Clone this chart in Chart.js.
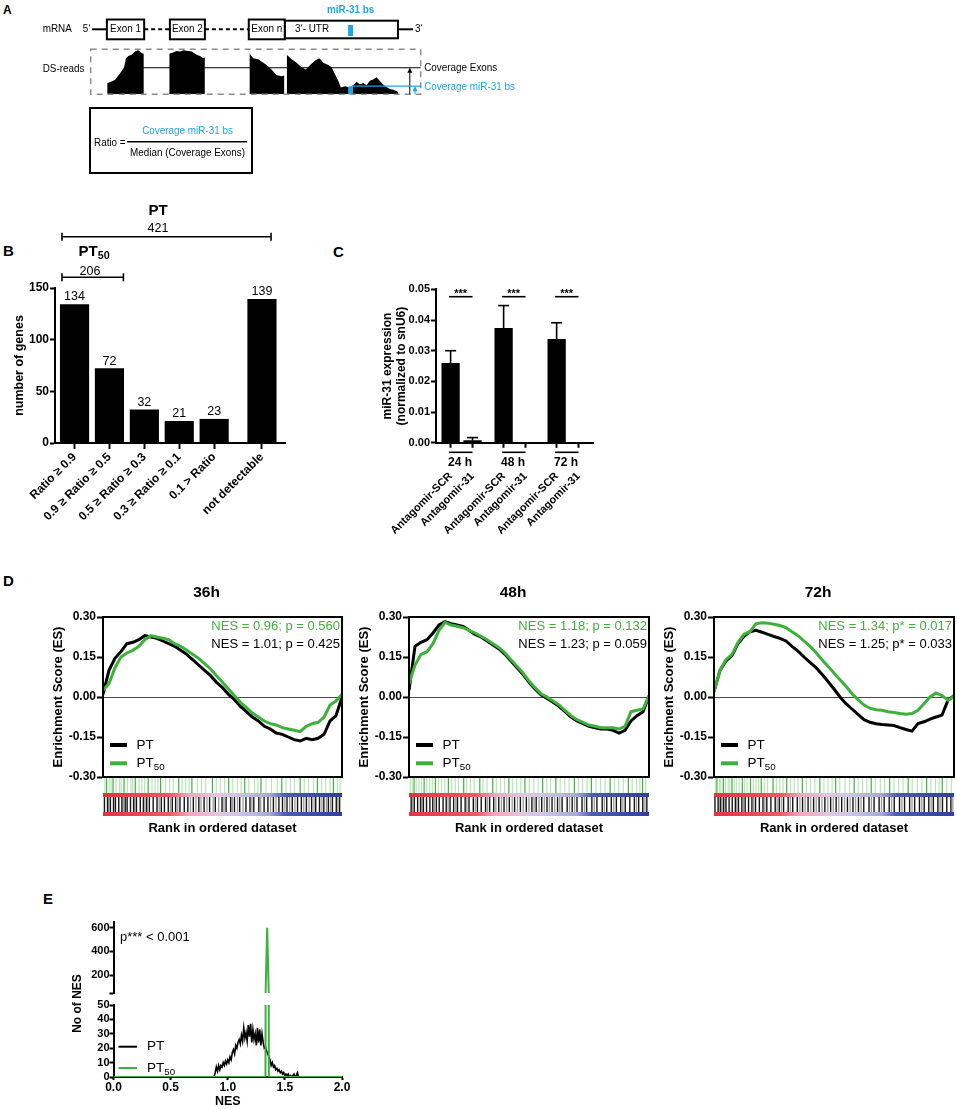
<!DOCTYPE html>
<html><head><meta charset="utf-8"><title>miR-31 figure</title>
<script src="https://cdn.jsdelivr.net/npm/chart.js@4.4.1/dist/chart.umd.min.js"></script>
<style>
html,body{margin:0;padding:0;background:#fff;}
#page{position:relative;width:957px;height:1109px;overflow:hidden;background:#fff;font-family:"Liberation Sans",Arial,sans-serif;}
#page canvas{position:absolute;}
.pl{position:absolute;font-weight:bold;font-size:15px;line-height:15px;color:#000;}
</style></head>
<body><div id="page">
<div class="pl" style="left:3px;top:4px;font-size:12px;line-height:12px">A</div>
<div class="pl" style="left:3px;top:243px">B</div>
<div class="pl" style="left:333px;top:244px">C</div>
<div class="pl" style="left:3px;top:573px">D</div>
<div class="pl" style="left:43px;top:891px">E</div>
<canvas id="cA" width="560" height="180" style="left:0;top:0"></canvas>
<canvas id="cB" width="300" height="335" style="left:0;top:195px"></canvas>
<canvas id="cC" width="293" height="300" style="left:330px;top:240px"></canvas>
<canvas id="cD1" width="320" height="262" style="left:30px;top:578px"></canvas>
<canvas id="cD2" width="321" height="262" style="left:336px;top:578px"></canvas>
<canvas id="cD3" width="316" height="262" style="left:641px;top:578px"></canvas>
<canvas id="cE2" width="320" height="209" style="left:40px;top:900px"></canvas>
<canvas id="cE1" width="320" height="90" style="left:40px;top:910px"></canvas>
</div>
<script>
// ---------------- DATA ----------------
// Panel A: read coverage (percent of the read box height) along the transcript (arbitrary position units 0-1000)
const A_EXON1_POS = [50,58,73,84,94,101,107,114,124,134,144,154,161];
const A_EXON1_COV = [25,27,32,42,52,60,80,85,88,95,98,92,90];
const A_EXON2_POS = [238,250,260,271,281,291,306,321,331,341,346];
const A_EXON2_COV = [90,93,96,95,98,97,95,88,85,80,82];
const A_EXONN_POS = [481,487,493,508,523,533,548,563,578,587];
const A_EXONN_COV = [92,85,80,78,70,65,55,43,40,42];
const A_UTR_POS = [594,609,624,639,652,665,680,693,705,720,730,740,750,758,771,784,796,806,816,826,836,846,856,866,876,886,896,907,917,932];
const A_UTR_COV = [88,78,70,60,55,65,75,80,70,65,60,45,30,15,18,15,20,28,22,25,20,30,33,38,30,22,16,12,10,5];
const A_BS_POS = [780,795];
const A_BS_COV = [17,19];
const A_MEDIAN_COV = 59;
const A_BS_LEVEL = 18;

// Panel B
const B_CATEGORIES = ['Ratio \u2265 0.9','0.9 \u2265 Ratio \u2265 0.5','0.5 \u2265 Ratio \u2265 0.3','0.3 \u2265 Ratio \u2265 0.1','0.1 > Ratio','not detectable'];
const B_VALUES = [134,72,32,21,23,139];
const B_GROUP_NAMES = ['PT','PT50'];
const B_GROUP_TOTALS = [421,206];
const B_Y_TICKS = [0,50,100,150];

// Panel C
const C_LABELS = ['Antagomir-SCR','Antagomir-31','Antagomir-SCR','Antagomir-31','Antagomir-SCR','Antagomir-31'];
const C_TIMES = ['24 h','48 h','72 h'];
const C_MEANS = [0.0259,0.0007,0.0373,0,0.0337,0];
const C_ERRORS = [0.0041,0.0010,0.0074,0,0.0054,0];
const C_SIGNIF = ['***','***','***'];
const C_Y_TICKS = [0,0.01,0.02,0.03,0.04,0.05];

// Panel D
const D_TITLES = ['36h','48h','72h'];
const D_SERIES = ['PT','PT50'];
const D_NES_PT = ['NES = 1.01; p = 0.425','NES = 1.23; p = 0.059','NES = 1.25; p* = 0.033'];
const D_NES_PT50 = ['NES = 0.96; p = 0.560','NES = 1.18; p = 0.132','NES = 1.34; p* = 0.017'];
const D_Y_TICKS = [-0.30,-0.15,0,0.15,0.30];
const D_RANK = [0,2.5,5,7.5,10,12.5,15,17.5,20,22.5,25,27.5,30,32.5,35,37.5,40,42.5,45,47.5,50,52.5,55,57.5,60,62.5,65,67.5,70,72.5,75,77.5,80,82.5,85,87.5,90,92.5,95,97.5,100];
const D36_PT   = [0.01,0.10,0.145,0.17,0.20,0.205,0.215,0.23,0.225,0.22,0.21,0.20,0.19,0.175,0.16,0.14,0.12,0.10,0.08,0.055,0.035,0.01,-0.01,-0.035,-0.055,-0.075,-0.09,-0.11,-0.12,-0.135,-0.14,-0.15,-0.16,-0.165,-0.155,-0.16,-0.155,-0.14,-0.09,-0.07,0.0];
const D36_PT50 = [0.025,0.05,0.11,0.15,0.165,0.175,0.19,0.215,0.23,0.225,0.22,0.215,0.20,0.19,0.175,0.16,0.145,0.125,0.105,0.08,0.055,0.03,0.005,-0.02,-0.04,-0.06,-0.075,-0.09,-0.10,-0.105,-0.115,-0.12,-0.125,-0.13,-0.11,-0.10,-0.095,-0.075,-0.03,-0.015,0.01];
const D48_PT   = [0.025,0.19,0.205,0.215,0.24,0.27,0.283,0.275,0.27,0.265,0.25,0.235,0.225,0.21,0.195,0.18,0.16,0.135,0.11,0.085,0.055,0.03,0.008,-0.005,-0.02,-0.035,-0.055,-0.075,-0.09,-0.10,-0.11,-0.115,-0.12,-0.12,-0.125,-0.135,-0.125,-0.09,-0.07,-0.055,0.005];
const D48_PT50 = [0.05,0.12,0.16,0.17,0.2,0.25,0.28,0.27,0.265,0.26,0.25,0.24,0.228,0.215,0.2,0.185,0.165,0.14,0.115,0.09,0.06,0.035,0.012,0.0,-0.015,-0.03,-0.05,-0.07,-0.085,-0.095,-0.105,-0.11,-0.115,-0.115,-0.115,-0.12,-0.11,-0.055,-0.05,-0.045,0.005];
const D72_PT   = [0.02,0.1,0.135,0.155,0.2,0.228,0.245,0.25,0.243,0.235,0.227,0.22,0.21,0.19,0.172,0.15,0.13,0.11,0.085,0.058,0.03,0.0,-0.025,-0.045,-0.065,-0.085,-0.095,-0.1,-0.103,-0.105,-0.107,-0.115,-0.122,-0.128,-0.1,-0.093,-0.083,-0.075,-0.068,-0.012,0.005];
const D72_PT50 = [0.02,0.1,0.14,0.16,0.205,0.235,0.245,0.275,0.278,0.277,0.273,0.268,0.26,0.245,0.23,0.21,0.19,0.167,0.14,0.115,0.09,0.065,0.04,0.012,-0.01,-0.03,-0.042,-0.048,-0.05,-0.055,-0.058,-0.062,-0.065,-0.062,-0.05,-0.025,0.0,0.015,0.005,-0.012,0.003];
// gene-set hits (rank %), barcode rows
const D36_HIT50_STRONG = [1.5,4.2,8.8,13.5,18.9,24.1,31.7,37.2,45.8,52.6,59.3,66.1,74.8,82.5,89.7,96.4];
const D36_HIT50_LIGHT = [0.8,2.6,3.4,5.5,6.9,7.6,10.2,11.7,12.4,15.1,16.3,17.4,20.5,21.8,23.0,26.2,27.9,29.4,33.1,34.6,36.0,39.5,41.2,43.0,47.4,49.1,50.9,54.3,56.2,57.8,61.0,63.4,64.8,68.2,70.5,72.9,76.6,78.4,80.1,84.2,86.0,88.1,91.5,93.2,95.0,98.1,99.2];
const D36_HIT_STRONG = [0.6,1.9,3.1,4.4,5.2,6.6,7.9,9.3,10.1,11.5,12.8,14.0,15.6,16.9,18.3,19.4,21.0,22.6,24.4,25.7,27.3,29.0,30.4,32.2,34.0,35.5,37.8,40.1,42.3,44.6,47.0,49.8,51.5,53.4,55.0,57.2,59.8,61.5,63.1,65.2,67.4,69.0,71.3,73.6,75.1,77.0,79.2,81.4,83.0,85.1,87.3,89.0,90.6,92.4,94.3,96.0,97.6,99.0];
const D36_HIT_LIGHT = [2.4,8.5,13.3,17.6,23.5,28.2,31.3,36.6,38.9,41.0,43.5,46.1,48.4,50.6,54.1,56.3,58.6,62.3,66.0,70.1,72.4,76.1,78.1,80.3,84.0,86.2,88.3,91.6,93.5,95.2,98.3];
const D48_HIT50_STRONG = [2.1,6.3,11.0,16.4,22.8,29.5,34.9,41.6,48.3,55.7,61.2,68.9,76.0,83.8,91.4,97.3];
const D48_HIT50_LIGHT = [0.5,1.3,3.0,4.1,5.2,7.4,8.6,9.7,12.3,13.6,14.9,17.8,19.3,20.6,24.0,25.6,27.2,30.8,32.5,36.4,38.1,39.8,43.2,44.9,46.6,50.1,52.0,53.8,57.4,59.0,63.0,64.9,66.7,70.6,72.3,74.2,77.9,79.8,81.7,85.6,87.4,89.3,93.0,94.8,96.2,98.6];
const D48_HIT_STRONG = [0.9,2.2,3.6,4.8,6.0,7.3,8.7,9.9,11.4,12.6,14.2,15.5,17.1,18.6,20.2,21.7,23.4,25.0,26.8,28.5,30.1,31.9,33.6,35.3,37.4,39.6,41.8,44.0,46.4,48.9,51.2,53.0,55.3,57.5,59.6,61.9,63.8,65.9,68.0,70.0,72.1,74.0,76.2,78.3,80.5,82.4,84.3,86.4,88.2,90.1,92.0,93.9,95.7,97.4,99.1];
const D48_HIT_LIGHT = [1.5,5.4,10.6,16.3,19.5,24.1,27.6,32.7,36.2,38.5,40.7,43.0,45.2,47.6,50.0,52.1,54.2,56.4,58.5,60.7,62.8,66.9,69.0,73.1,77.2,81.4,85.3,89.1,94.8,98.3];
const D72_HIT50_STRONG = [1.2,3.9,7.5,11.8,15.2,19.7,24.6,30.3,36.8,44.1,50.7,58.4,65.5,73.2,80.9,88.6,95.1];
const D72_HIT50_LIGHT = [0.6,2.3,2.9,4.8,5.9,6.6,8.4,9.3,10.5,12.7,13.8,16.4,17.5,18.6,21.0,22.3,26.0,27.4,28.8,31.9,33.4,35.0,38.5,40.2,42.0,45.8,47.5,49.2,52.4,54.6,56.5,60.1,61.9,63.7,67.2,69.3,71.1,75.0,76.9,78.8,82.6,84.7,86.6,90.4,92.3,93.8,97.0,98.9];
const D72_HIT_STRONG = [0.4,1.7,2.8,3.9,5.0,6.3,7.6,8.9,10.2,11.6,13.0,14.4,15.8,17.3,18.9,20.4,22.0,23.7,25.5,27.2,29.0,30.9,32.8,34.7,36.9,39.2,41.5,43.8,46.2,48.6,50.9,53.2,55.6,57.9,60.2,62.4,64.6,66.7,68.8,70.9,73.0,75.1,77.3,79.4,81.5,83.6,85.6,87.6,89.5,91.4,93.3,95.2,97.0,98.7];
const D72_HIT_LIGHT = [2.2,4.5,9.5,12.3,16.5,21.2,26.3,28.1,31.8,35.8,38.0,40.3,42.6,45.0,47.4,49.7,52.0,54.4,56.7,59.0,61.3,65.6,69.8,74.0,78.3,82.5,86.6,90.5,94.2,99.5];

// Panel E
const E_NES = [0.87,0.88,0.89,0.90,0.91,0.92,0.93,0.94,0.95,0.96,0.97,0.98,0.99,1.00,1.01,1.02,1.03,1.04,1.05,1.06,1.07,1.08,1.09,1.10,1.11,1.12,1.13,1.14,1.15,1.16,1.17,1.18,1.19,1.20,1.21,1.22,1.23,1.24,1.25,1.26,1.27,1.28,1.29,1.30,1.31,1.32,1.33,1.34,1.35,1.36,1.37,1.38,1.39,1.40,1.41,1.42,1.43,1.44,1.45,1.46,1.47,1.48,1.49,1.50,1.51,1.52,1.53,1.54,1.55,1.56,1.57,1.58,1.59,1.60,1.61,1.62];
const E_PT_COUNT = [0,0,3,7,4,8,5,8,7,10,8,11,9,12,10,14,12,17,19,16,22,20,24,26,23,29,25,34,27,31,25,36,28,37,24,33,26,30,22,34,24,33,22,30,24,20,21,18,16,14,12,8,10,7,8,5,6,4,5,3,4,2,3,1,2,1,2,0,1,0,1,2,0,1,3,0];
const E_PT50_NES = [0,1.33,1.345,1.36,2.0];
const E_PT50_COUNT = [0,0,600,0,0];
const E_SERIES = ['PT','PT50'];
const E_PTEXT = 'p*** < 0.001';

// ---------------- STYLE / HELPERS ----------------
const FF = '"Liberation Sans", Arial, Helvetica, sans-serif';
const GREEN = '#3db23a';
const BLUE = '#1ea5e6';
Chart.defaults.font.family = FF;
Chart.defaults.color = '#000';
Chart.defaults.animation = false;
Chart.defaults.events = [];
Chart.defaults.plugins.legend.display = false;
Chart.defaults.plugins.tooltip.enabled = false;

function txt(ctx, s, x, y, o) {
  o = o || {};
  ctx.save();
  ctx.font = (o.weight || 'normal') + ' ' + (o.size || 12) + 'px ' + FF;
  ctx.fillStyle = o.color || '#000';
  ctx.textAlign = o.align || 'left';
  ctx.textBaseline = o.baseline || 'middle';
  ctx.translate(x, y);
  ctx.scale(o.sx || 1, 1);
  ctx.fillText(s, 0, 0);
  ctx.restore();
}
function subLabel(ctx, text, x, y, size, weight, align, color) {
  const m = /^(.*?)(\d+)$/.exec(text);
  const main = m ? m[1] : text, sub = m ? m[2] : '';
  ctx.save();
  ctx.fillStyle = color || '#000';
  ctx.textBaseline = 'middle'; ctx.textAlign = 'left';
  ctx.font = weight + ' ' + size + 'px ' + FF;
  const w1 = ctx.measureText(main).width;
  ctx.font = weight + ' ' + (size * 0.72) + 'px ' + FF;
  const w2 = sub ? ctx.measureText(sub).width : 0;
  const x0 = align === 'center' ? x - (w1 + w2) / 2 : x;
  ctx.font = weight + ' ' + size + 'px ' + FF;
  ctx.fillText(main, x0, y);
  if (sub) { ctx.font = weight + ' ' + (size * 0.72) + 'px ' + FF; ctx.fillText(sub, x0 + w1, y + size * 0.3); }
  ctx.restore();
}
function seg(ctx, x1, y1, x2, y2) { ctx.beginPath(); ctx.moveTo(x1, y1); ctx.lineTo(x2, y2); ctx.stroke(); }
function axisGrid(tl) { return {display:true, drawOnChartArea:false, drawTicks:true, tickLength:tl, tickWidth:2, tickColor:'#000', offset:false}; }
const AX_BORDER = {display:true, color:'#000', width:2};

// ---------------- PANEL A ----------------
const aPts = [];
[[A_EXON1_POS,A_EXON1_COV],[A_EXON2_POS,A_EXON2_COV],[A_EXONN_POS,A_EXONN_COV],[A_UTR_POS,A_UTR_COV]].forEach(function(pc, k){
  if (k) aPts.push({x: pc[0][0] - 2, y: null});
  pc[0].forEach(function(x, i){ aPts.push({x: x, y: pc[1][i]}); });
});
const aPlugin = {id:'aExtra', afterDatasetsDraw(chart){
  const ctx = chart.ctx, ca = chart.chartArea, xs = chart.scales.x, ys = chart.scales.y;
  const X = u => xs.getPixelForValue(u), Y = v => ys.getPixelForValue(v);
  const T = {size:11.5, sx:0.86};
  ctx.save();
  ctx.strokeStyle = '#8c8c8c'; ctx.lineWidth = 1.5; ctx.setLineDash([6,5]);
  ctx.strokeRect(ca.left, ca.top, ca.right - ca.left, ca.bottom - ca.top);
  ctx.setLineDash([]);
  function vArrow(x, y0, y1, col){
    ctx.strokeStyle = col; ctx.fillStyle = col; ctx.lineWidth = 1;
    seg(ctx, x, y0, x, y1 + 1);
    ctx.beginPath(); ctx.moveTo(x, y1); ctx.lineTo(x - 2.5, y1 + 5); ctx.lineTo(x + 2.5, y1 + 5); ctx.closePath(); ctx.fill();
  }
  const ym = Y(A_MEDIAN_COV), yb = Y(A_BS_LEVEL);
  ctx.strokeStyle = '#000'; ctx.lineWidth = 1;
  seg(ctx, X(119), ym, X(1000), ym);
  vArrow(X(967), ca.bottom, ym, '#000');
  ctx.strokeStyle = BLUE; ctx.lineWidth = 1.2;
  seg(ctx, X(792), yb, X(1000), yb);
  vArrow(X(983), ca.bottom, yb, BLUE);
  txt(ctx, 'Coverage Exons', X(1000) + 3.5, ym, T);
  txt(ctx, 'Coverage miR-31 bs', X(1000) + 3.5, yb + 0.5, {size:11.5, sx:0.86, color:BLUE});
  txt(ctx, 'DS-reads', 42.7, 69, T);
  const ry = 29.3;
  ctx.strokeStyle = '#000'; ctx.lineWidth = 2;
  seg(ctx, X(4), ry, X(49), ry);
  seg(ctx, X(931), ry, X(977), ry);
  ctx.setLineDash([4,3]);
  seg(ctx, X(162), ry, X(240), ry);
  seg(ctx, X(346), ry, X(479), ry);
  ctx.setLineDash([]);
  ctx.fillStyle = '#fff';
  function box(u1, u2, t, b){ ctx.fillRect(X(u1), t, X(u2) - X(u1), b - t); ctx.strokeRect(X(u1), t, X(u2) - X(u1), b - t); }
  box(49, 162, 19.5, 39.3); box(240, 346, 19.5, 39.3); box(588, 931, 20.7, 38.3); box(479, 588, 19.5, 39.3);
  ctx.fillStyle = BLUE; ctx.fillRect(X(780), 25, X(795) - X(780), 11);
  txt(ctx, 'Exon 1', (X(49) + X(162)) / 2, ry, Object.assign({align:'center'}, T));
  txt(ctx, 'Exon 2', (X(240) + X(346)) / 2, ry, Object.assign({align:'center'}, T));
  txt(ctx, 'Exon n', (X(479) + X(588)) / 2, ry, Object.assign({align:'center'}, T));
  txt(ctx, '3\u2018- UTR', X(619), ry, T);
  txt(ctx, '5\u2018', X(4) - 1.5, ry, Object.assign({align:'right'}, T));
  txt(ctx, '3\u2018', X(977) + 2, ry, T);
  txt(ctx, 'mRNA', 42.7, ry, T);
  txt(ctx, 'miR-31 bs', (X(780) + X(795)) / 2, 9.5, {size:11.5, sx:0.86, align:'center', color:BLUE, weight:'bold'});
  ctx.strokeStyle = '#000'; ctx.lineWidth = 2;
  ctx.strokeRect(90, 108, 162, 65);
  txt(ctx, 'Ratio =', 94, 143, T);
  ctx.lineWidth = 1.5; seg(ctx, 127, 141.7, 247, 141.7);
  txt(ctx, 'Coverage miR-31 bs', 187.5, 131, {size:11.5, sx:0.86, align:'center', color:BLUE});
  txt(ctx, 'Median (Coverage Exons)', 187.5, 152.5, Object.assign({align:'center'}, T));
  ctx.restore();
}};
new Chart(document.getElementById('cA'), {
  type:'line',
  data:{datasets:[
    {data:A_BS_POS.map((x, i) => ({x:x, y:A_BS_COV[i]})), borderWidth:0, pointRadius:0, fill:'origin', backgroundColor:BLUE},
    {data:aPts, borderWidth:0, pointRadius:0, fill:'origin', backgroundColor:'#000', spanGaps:false}
  ]},
  options:{responsive:false, layout:{padding:{left:90.7, right:139.3, top:49.3, bottom:85.7}},
    scales:{x:{type:'linear', display:false, min:0, max:1000}, y:{display:false, min:0, max:100}}},
  plugins:[aPlugin]
});

// ---------------- PANEL B ----------------
const bSlot = i => i + 1 + (i === 5 ? 0.37 : 0);
const bPlugin = {id:'bExtra', afterDatasetsDraw(chart){
  const ctx = chart.ctx, ca = chart.chartArea, xs = chart.scales.x, ys = chart.scales.y;
  ctx.save();
  B_VALUES.forEach((v, i) => txt(ctx, String(v), xs.getPixelForValue(bSlot(i)), ys.getPixelForValue(v) - 7.5, {size:12.5, align:'center'}));
  ctx.strokeStyle = '#000'; ctx.lineWidth = 1.6;
  function bracket(u1, u2, y){ const x1 = xs.getPixelForValue(u1), x2 = xs.getPixelForValue(u2);
    seg(ctx, x1, y, x2, y); seg(ctx, x1, y - 4, x1, y + 4); seg(ctx, x2, y - 4, x2, y + 4); }
  bracket(0.64, 6.63, ca.top - 51.3);
  bracket(0.64, 2.40, ca.top - 10.7);
  subLabel(ctx, B_GROUP_NAMES[0], xs.getPixelForValue(3.39), ca.top - 77, 15, 'bold', 'center');
  txt(ctx, String(B_GROUP_TOTALS[0]), xs.getPixelForValue(3.39), ca.top - 59.5, {size:12.5, align:'center'});
  subLabel(ctx, B_GROUP_NAMES[1], xs.getPixelForValue(1.56), ca.top - 36.5, 15, 'bold', 'center');
  txt(ctx, String(B_GROUP_TOTALS[1]), xs.getPixelForValue(1.44), ca.top - 16, {size:12.5, align:'center'});
  ctx.restore();
}};
new Chart(document.getElementById('cB'), {
  type:'bar',
  data:{datasets:[{data:B_VALUES.map((v, i) => ({x:bSlot(i), y:v})), backgroundColor:'#000', barThickness:28.5}]},
  options:{responsive:false, layout:{padding:{top:93, right:15, left:0, bottom:0}},
    scales:{
      x:{type:'linear', offset:false, min:0.44, max:7.03,
        afterBuildTicks: s => { s.ticks = B_CATEGORIES.map((c, i) => ({value:bSlot(i)})); },
        afterFit: s => { s.height = 87; },
        ticks:{callback:(v, i) => B_CATEGORIES[i], minRotation:45, maxRotation:45, autoSkip:false, font:{size:12, weight:'bold'}, padding:1},
        grid:axisGrid(6), border:AX_BORDER},
      y:{min:0, max:150,
        afterBuildTicks: s => { s.ticks = B_Y_TICKS.map(v => ({value:v})); },
        afterFit: s => { s.width = 55; },
        ticks:{font:{size:12, weight:'bold'}, padding:1, autoSkip:false},
        title:{display:true, text:'number of genes', font:{size:12.5, weight:'bold'}, padding:{top:12.5, bottom:0}},
        grid:axisGrid(5), border:AX_BORDER}
    }},
  plugins:[bPlugin]
});

// ---------------- PANEL C ----------------
const cSlot = i => 1 + (i % 2) + Math.floor(i / 2) * 2.42;
const cPlugin = {id:'cExtra', afterDatasetsDraw(chart){
  const ctx = chart.ctx, ca = chart.chartArea, xs = chart.scales.x, ys = chart.scales.y;
  ctx.save();
  ctx.strokeStyle = '#000'; ctx.lineWidth = 1.6;
  C_MEANS.forEach((m, i) => {
    if (!C_ERRORS[i]) return;
    const x = xs.getPixelForValue(cSlot(i)), y0 = ys.getPixelForValue(m), y1 = ys.getPixelForValue(m + C_ERRORS[i]);
    seg(ctx, x, y0, x, y1); seg(ctx, x - 5.5, y1, x + 5.5, y1);
  });
  C_TIMES.forEach((t, g) => {
    const x1 = xs.getPixelForValue(cSlot(2 * g)), x2 = xs.getPixelForValue(cSlot(2 * g + 1));
    ctx.lineWidth = 1.6;
    seg(ctx, x1 - 1.5, ca.top + 7.4, x2, ca.top + 7.4);
    txt(ctx, C_SIGNIF[g], (x1 + x2) / 2 - 1, ca.top + 8, {size:11, weight:'bold', align:'center', baseline:'alphabetic'});
    seg(ctx, x1 - 1.5, ca.bottom + 9.5, x2, ca.bottom + 9.5);
    txt(ctx, t, (x1 + x2) / 2 - 1.5, ca.bottom + 19.5, {size:12, weight:'bold', align:'center'});
  });
  ctx.restore();
}};
new Chart(document.getElementById('cC'), {
  type:'bar',
  data:{datasets:[{data:C_MEANS.map((v, i) => ({x:cSlot(i), y:v})), backgroundColor:'#000', barThickness:17.6}]},
  options:{responsive:false, layout:{padding:{top:49.3, right:30, left:0, bottom:0}},
    scales:{
      x:{type:'linear', offset:false, min:0.333, max:7.5,
        afterBuildTicks: s => { s.ticks = C_LABELS.map((c, i) => ({value:cSlot(i)})); },
        afterFit: s => { s.height = 97.2; },
        ticks:{callback:(v, i) => C_LABELS[i], minRotation:45, maxRotation:45, autoSkip:false, font:{size:11, weight:'bold'}, padding:22},
        grid:axisGrid(5), border:AX_BORDER},
      y:{min:0, max:0.05,
        afterBuildTicks: s => { s.ticks = C_Y_TICKS.map(v => ({value:v})); },
        afterFit: s => { s.width = 106; },
        ticks:{callback: v => v.toFixed(2), font:{size:11, weight:'bold'}, padding:1, autoSkip:false},
        title:{display:true, text:['miR-31 expression','(normalized to snU6)'], font:{size:12, weight:'bold'}, padding:{top:50.3, bottom:0}},
        grid:axisGrid(5), border:AX_BORDER}
    }},
  plugins:[cPlugin]
});

// ---------------- PANEL D ----------------
const D_PT = [D36_PT, D48_PT, D72_PT];
const D_PT50 = [D36_PT50, D48_PT50, D72_PT50];
const D_HITS = [
  [D36_HIT50_STRONG, D36_HIT50_LIGHT, D36_HIT_STRONG, D36_HIT_LIGHT],
  [D48_HIT50_STRONG, D48_HIT50_LIGHT, D48_HIT_STRONG, D48_HIT_LIGHT],
  [D72_HIT50_STRONG, D72_HIT50_LIGHT, D72_HIT_STRONG, D72_HIT_LIGHT]
];
function gseaPlugin(k){ return {id:'gsea' + k, afterDraw(chart){
  const ctx = chart.ctx, ca = chart.chartArea, xs = chart.scales.x;
  const X = r => xs.getPixelForValue(r);
  ctx.save();
  ctx.strokeStyle = '#000'; ctx.lineWidth = 2;
  ctx.strokeRect(ca.left, ca.top, ca.right - ca.left, ca.bottom - ca.top);
  txt(ctx, D_TITLES[k], (ca.left + ca.right) / 2 - 16, ca.top - 24, {size:15.5, weight:'bold', align:'center'});
  txt(ctx, D_NES_PT50[k], ca.right - 2, ca.top + 9.5, {size:13, align:'right', color:GREEN});
  txt(ctx, D_NES_PT[k], ca.right - 2, ca.top + 27, {size:13, align:'right'});
  [0, 1].forEach(i => {
    const y = ca.top + 128 + i * 18.3;
    ctx.strokeStyle = i ? GREEN : '#000'; ctx.lineWidth = 4;
    seg(ctx, ca.left + 7, y, ca.left + 24, y);
    subLabel(ctx, D_SERIES[i], ca.left + 33.5, y, 13.5, 'normal', 'left');
  });
  const b = ca.bottom + 1, w = ca.right - ca.left;
  const h = D_HITS[k];
  function lines(arr, y0, y1, col, lw){ ctx.strokeStyle = col; ctx.lineWidth = lw; arr.forEach(r => seg(ctx, X(r), y0, X(r), y1)); }
  lines(h[1], b, b + 15, 'rgba(61,178,58,0.35)', 1.2);
  lines(h[0], b, b + 15, GREEN, 1.2);
  function band(y0, hh){
    const g = ctx.createLinearGradient(ca.left, 0, ca.right, 0);
    g.addColorStop(0, '#e2353d'); g.addColorStop(0.28, '#ec5a66'); g.addColorStop(0.36, '#f2a7c0');
    g.addColorStop(0.48, '#e2c6de'); g.addColorStop(0.56, '#cdc7e6'); g.addColorStop(0.7, '#a6a8d8');
    g.addColorStop(0.76, '#4d5db0'); g.addColorStop(1, '#2f3f9c');
    ctx.fillStyle = g; ctx.fillRect(ca.left, y0, w, hh);
  }
  band(b + 15, 4);
  lines(h[3], b + 19, b + 34, '#9c9c9c', 1.3);
  lines(h[2], b + 19, b + 34, '#151515', 1.4);
  band(b + 34, 4);
  ctx.restore();
}}; }
function gsea(id, k, padR){
  new Chart(document.getElementById(id), {
    type:'line',
    data:{datasets:[
      {label:D_SERIES[0], data:D_RANK.map((x, i) => ({x:x, y:D_PT[k][i]})), borderColor:'#000', borderWidth:3, pointRadius:0, order:2, tension:0},
      {label:D_SERIES[1], data:D_RANK.map((x, i) => ({x:x, y:D_PT50[k][i]})), borderColor:GREEN, borderWidth:3, pointRadius:0, order:1, tension:0}
    ]},
    options:{responsive:false, layout:{padding:{top:39, right:padR, left:0, bottom:0}},
      scales:{
        x:{type:'linear', min:0, max:100, ticks:{display:false}, grid:{display:false, drawTicks:false}, border:{display:false},
          title:{display:true, text:'Rank in ordered dataset', font:{size:13, weight:'bold'}, padding:{top:0, bottom:4}},
          afterFit: s => { s.height = 63; }},
        y:{min:-0.3, max:0.3,
          afterBuildTicks: s => { s.ticks = D_Y_TICKS.map(v => ({value:v})); },
          afterFit: s => { s.width = 73; },
          ticks:{callback: v => v.toFixed(2), font:{size:12, weight:'bold'}, padding:1, autoSkip:false},
          grid:{display:true, drawOnChartArea:true, drawTicks:true, tickLength:6, tickWidth:2, tickColor:'#000', lineWidth:1,
            color: c => (c.tick && Math.abs(c.tick.value) < 1e-9) ? '#4a4a4a' : 'rgba(0,0,0,0)'},
          border:AX_BORDER,
          title:{display:true, text:'Enrichment Score (ES)', font:{size:13, weight:'bold'}, padding:{top:20.2, bottom:0}}}
      }},
    plugins:[gseaPlugin(k)]
  });
}
gsea('cD1', 0, 8);
gsea('cD2', 1, 8);
gsea('cD3', 2, 3);

// ---------------- PANEL E ----------------
const eDatasets = () => [
  {data:E_PT50_NES.map((x, i) => ({x:x, y:E_PT50_COUNT[i]})), borderColor:GREEN, borderWidth:2, pointRadius:0, tension:0, order:1},
  {data:E_NES.map((x, i) => ({x:x, y:E_PT_COUNT[i]})), borderColor:'#000', borderWidth:1.6, pointRadius:0, tension:0, order:2}
];
const eTopPlugin = {id:'eTop', afterDraw(chart){
  const ca = chart.chartArea;
  txt(chart.ctx, E_PTEXT, ca.left + 6.5, ca.top + 15, {size:13});
}};
new Chart(document.getElementById('cE1'), {
  type:'line',
  data:{datasets:eDatasets()},
  options:{responsive:false, layout:{padding:{top:12, right:18, left:0, bottom:7}},
    scales:{
      x:{type:'linear', min:0, max:2, display:false},
      y:{min:48, max:648,
        afterBuildTicks: s => { s.ticks = [48,200,400,600].map(v => ({value:v})); },
        afterFit: s => { s.width = 73.5; },
        ticks:{callback: v => (v === 48 ? '' : String(v)), font:{size:11, weight:'bold'}, padding:0, autoSkip:false},
        grid:axisGrid(4), border:AX_BORDER}
    }},
  plugins:[eTopPlugin]
});
const eBotPlugin = {id:'eBot', afterDraw(chart){
  const ctx = chart.ctx, ca = chart.chartArea;
  ctx.save();
  ctx.translate(38, 103.5); ctx.rotate(-Math.PI / 2);
  ctx.font = 'bold 12px ' + FF; ctx.fillStyle = '#000'; ctx.textAlign = 'center'; ctx.textBaseline = 'middle';
  ctx.fillText('No of NES', 0, 0);
  ctx.restore();
  [0, 1].forEach(i => {
    const y = ca.top + 41.7 + i * 21.3;
    ctx.save(); ctx.strokeStyle = i ? GREEN : '#000'; ctx.lineWidth = 2;
    seg(ctx, ca.left + 5, y, ca.left + 23.5, y); ctx.restore();
    subLabel(ctx, E_SERIES[i], ca.left + 33.5, y, 13.5, 'normal', 'left');
  });
}};
new Chart(document.getElementById('cE2'), {
  type:'line',
  data:{datasets:eDatasets()},
  options:{responsive:false, layout:{padding:{top:105, right:18, left:0, bottom:0}},
    scales:{
      x:{type:'linear', min:0, max:2,
        afterBuildTicks: s => { s.ticks = [0,0.5,1,1.5,2].map(v => ({value:v})); },
        afterFit: s => { s.height = 32; },
        ticks:{callback: v => v.toFixed(1), font:{size:12, weight:'bold'}, padding:0, maxRotation:0, autoSkip:false},
        grid:axisGrid(3), border:AX_BORDER,
        title:{display:true, text:'NES', font:{size:12.5, weight:'bold'}, padding:{top:0, bottom:0}}},
      y:{min:0, max:50,
        afterBuildTicks: s => { s.ticks = [0,10,20,30,40,50].map(v => ({value:v})); },
        afterFit: s => { s.width = 73.5; },
        ticks:{font:{size:11, weight:'bold'}, padding:0, autoSkip:false},
        grid:axisGrid(4), border:AX_BORDER}
    }},
  plugins:[eBotPlugin]
});
</script>
</body></html>
